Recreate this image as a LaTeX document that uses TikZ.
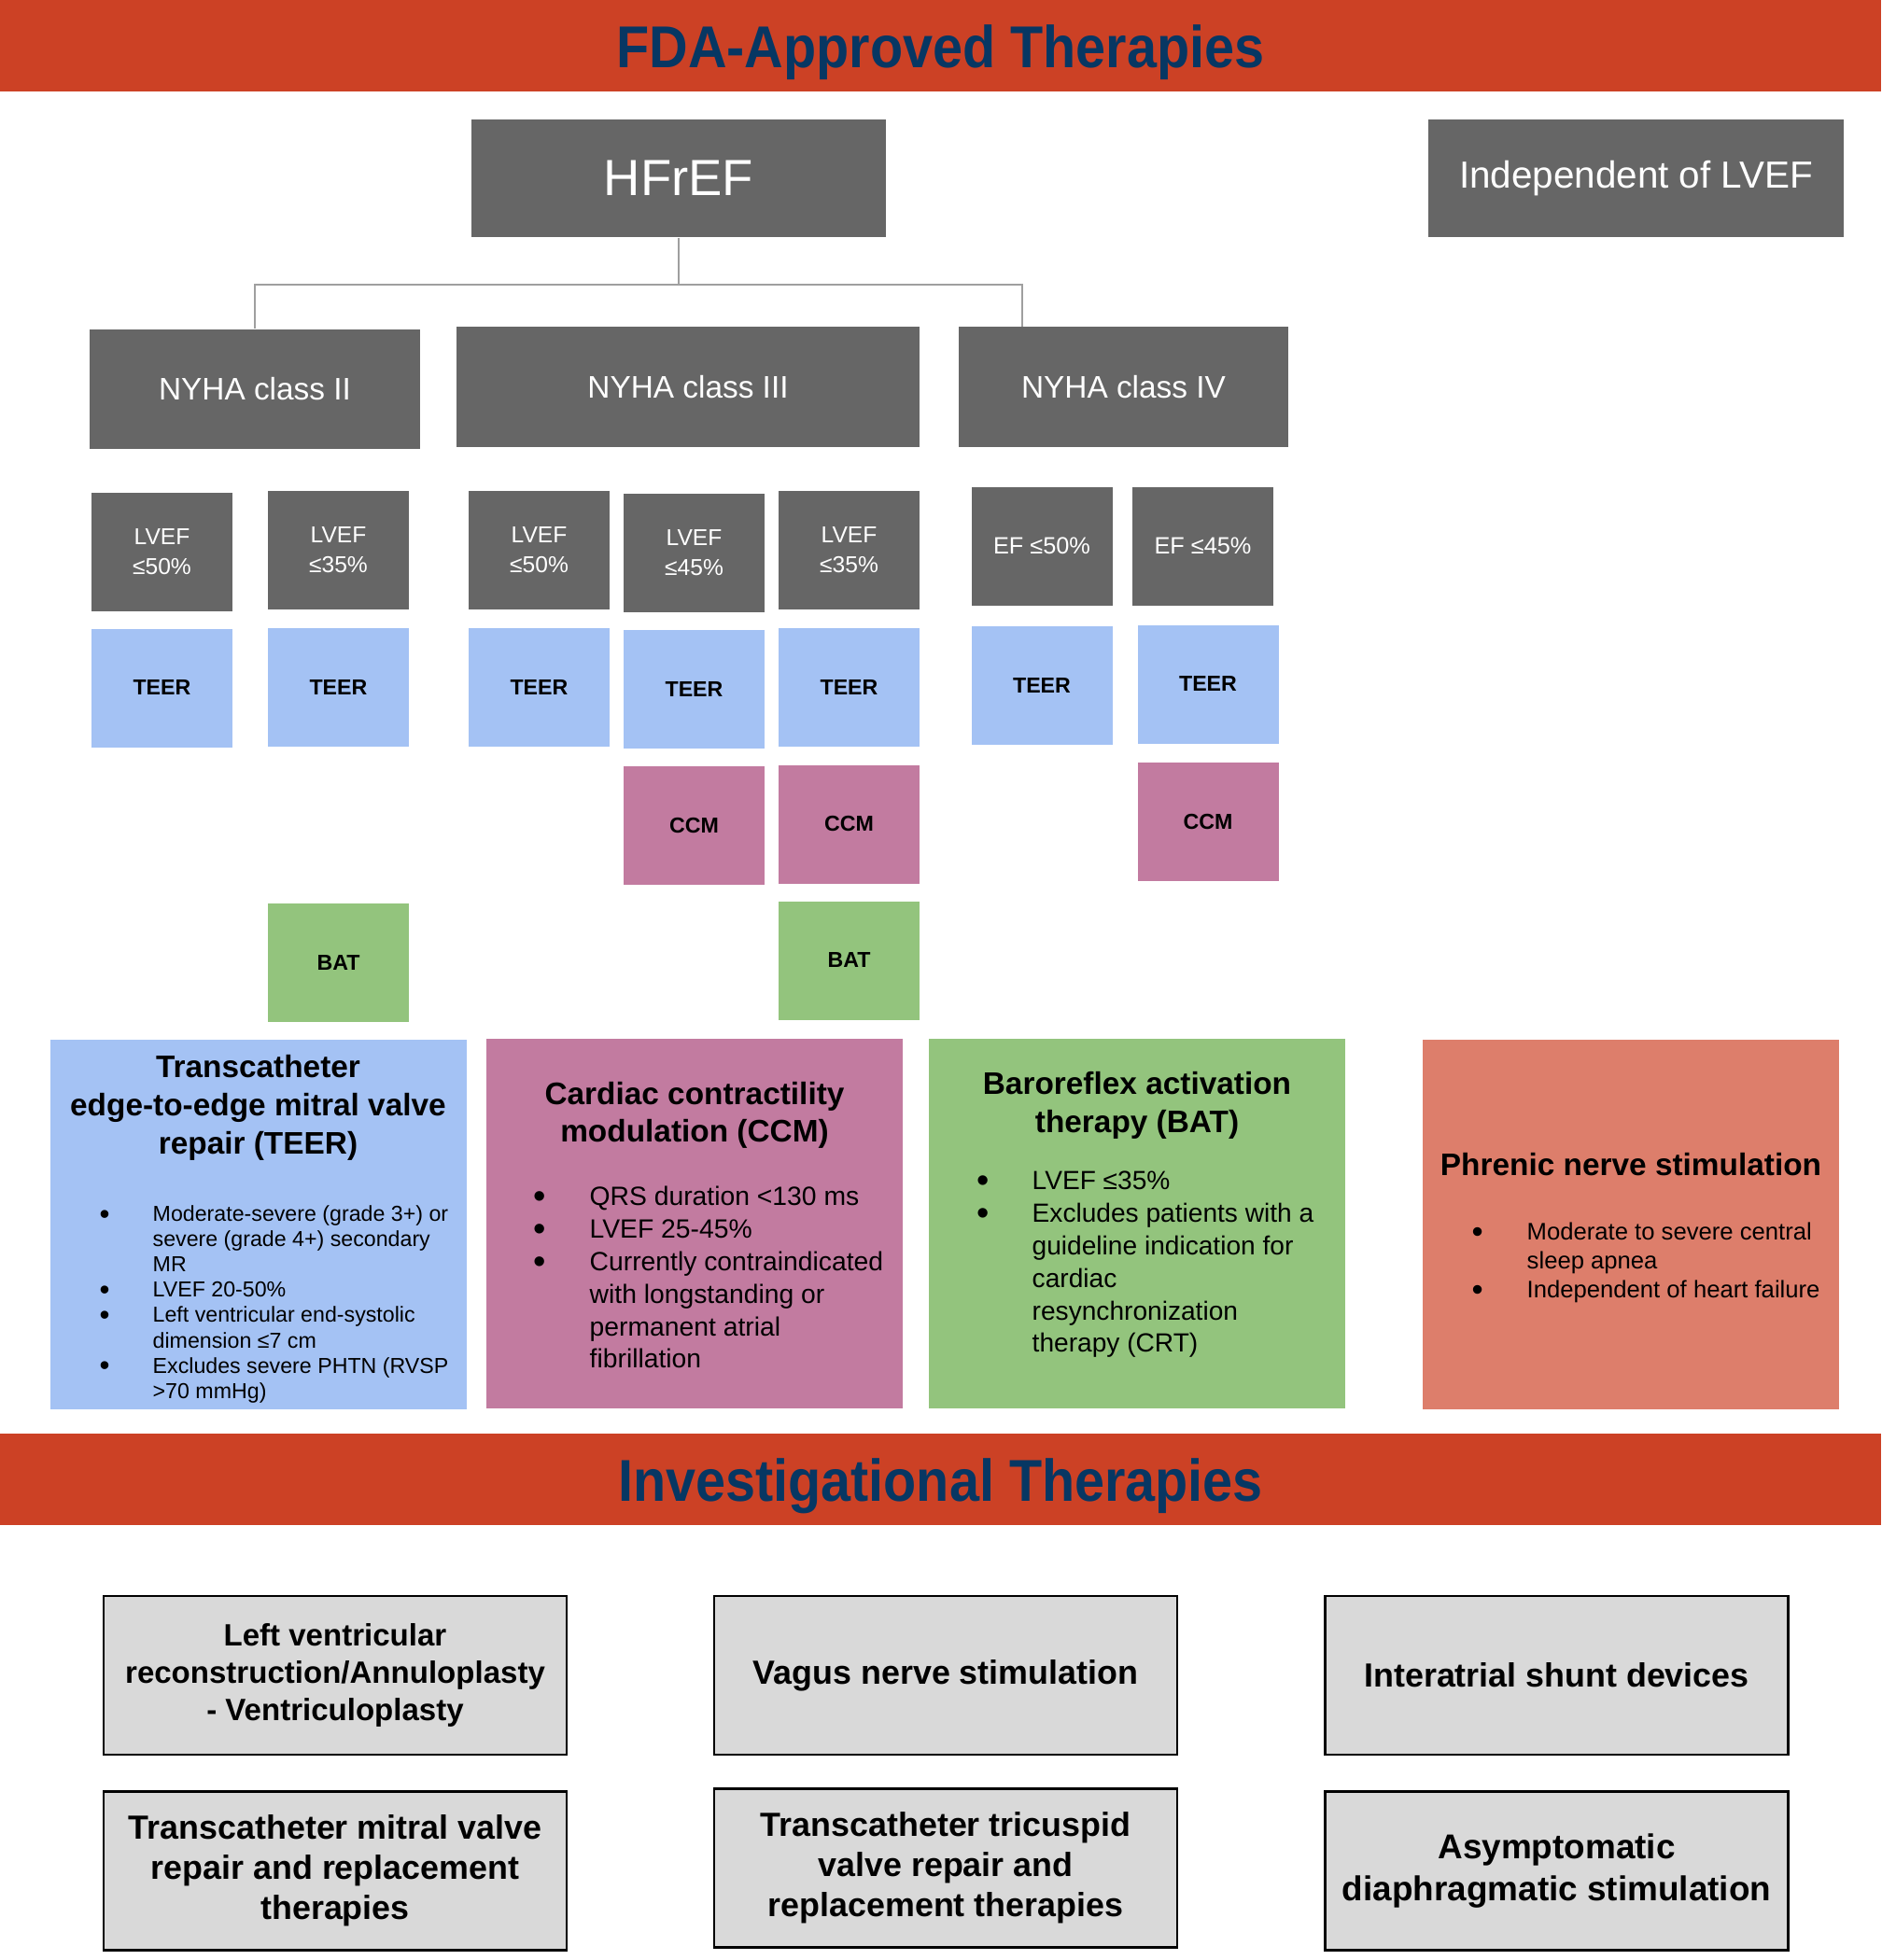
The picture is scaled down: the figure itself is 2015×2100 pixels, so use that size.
\documentclass[tikz,border=0pt]{standalone}
\usepackage{fontspec}
\setmainfont{Liberation Sans}
\newfontfamily\bannerfont{Liberation Sans}[FakeStretch=0.91]
\usepackage{tikz}
\definecolor{bannerc}{RGB}{204,65,37}
\definecolor{navyc}{RGB}{7,55,99}
\definecolor{greyc}{RGB}{102,102,102}
\definecolor{teerc}{RGB}{164,194,244}
\definecolor{ccmc}{RGB}{194,123,160}
\definecolor{batc}{RGB}{147,196,125}
\definecolor{pnsc}{RGB}{221,126,107}
\definecolor{invc}{RGB}{217,217,217}
\newcommand{\bul}{\raisebox{-.1em}{\scalebox{1.35}{\textbullet}}}
\tikzset{banner/.style={fill=bannerc,minimum width=201.5mm,minimum height=9.8mm,inner sep=0pt,text=navyc,text height=15pt,text depth=1.4pt,font=\bannerfont\fontsize{18}{20}\selectfont\bfseries},
 g/.style={fill=greyc,text=white,inner sep=0pt,align=center},
 nyha/.style={g,minimum height=12.8mm,font=\fontsize{9.5}{11}\selectfont},
 crit/.style={g,minimum width=15.1mm,minimum height=12.7mm,font=\fontsize{7}{9.1}\selectfont},
 sq/.style={inner sep=0pt,minimum width=15.1mm,minimum height=12.7mm,font=\fontsize{6.6}{8}\selectfont\bfseries},
 teer/.style={sq,fill=teerc},ccm/.style={sq,fill=ccmc},bat/.style={sq,fill=batc},
 descbox/.style={inner sep=0pt,minimum width=44.6mm,minimum height=39.6mm},
 dtitle/.style={inner sep=0pt,align=center,font=\fontsize{9.5}{11.6}\selectfont\bfseries},
 dlist/.style={inner sep=0pt,anchor=west},
 inv/.style={draw=black,line width=.8pt,fill=invc,minimum width=49.6mm,minimum height=17mm,inner sep=0pt,align=center,font=\fontsize{10.2}{12.2}\selectfont\bfseries},
 wire/.style={draw=gray!75,line width=.6pt}}
\begin{document}
\begin{tikzpicture}[x=0.1mm,y=-0.1mm]
\useasboundingbox (0,0) rectangle (2015,2100);
\node[banner] (fda) at (1007.5,49) {FDA-Approved Therapies};
\node[g,minimum width=44.4mm,minimum height=12.6mm,font=\fontsize{15.5}{18}\selectfont] (hfref) at (727,191) {HFrEF};
\node[g,minimum width=44.5mm,minimum height=12.6mm,font=\fontsize{11.5}{14}\selectfont] (indep) at (1752.5,191) {Independent of LVEF};
\node[nyha,minimum width=35.4mm] (nyha2) at (273,417) {NYHA class II};
\node[nyha,minimum width=49.6mm] (nyha3) at (737,414.5) {NYHA class III};
\node[nyha,minimum width=35.3mm] (nyha4) at (1203.5,414.5) {NYHA class IV};
\coordinate (bus) at (727,305);
\draw[wire] (hfref) -- (bus) -| (nyha2);
\draw[wire] (bus) -| ([xshift=6.9mm]nyha4.north west);

\node[crit] (c2a) at (173.5,591.5) {LVEF\\≤50\%};
\node[crit] (c2b) at (362.5,589.5) {LVEF\\≤35\%};
\node[crit] (c3a) at (577.5,589.5) {LVEF\\≤50\%};
\node[crit] (c3b) at (743.5,592.5) {LVEF\\≤45\%};
\node[crit] (c3c) at (909.5,589.5) {LVEF\\≤35\%};
\node[crit,font=\fontsize{7.2}{9}\selectfont] (c4a) at (1116,585) {EF ≤50\%};
\node[crit,font=\fontsize{7.2}{9}\selectfont] (c4b) at (1288.5,585) {EF ≤45\%};

\node[teer] (t2a) at (173.5,737) {TEER};
\node[teer] (t2b) at (362.5,736.5) {TEER};
\node[teer] (t3a) at (577.5,736.5) {TEER};
\node[teer] (t3b) at (743.5,738.5) {TEER};
\node[teer] (t3c) at (909.5,736.5) {TEER};
\node[teer] (t4a) at (1116,734.5) {TEER};
\node[teer] (t4b) at (1294,733) {TEER};
\node[ccm] (m3b) at (743.5,884.5) {CCM};
\node[ccm] (m3c) at (909.5,883) {CCM};
\node[ccm] (m4b) at (1294,880.5) {CCM};
\node[bat] (b2b) at (362.5,1031.5) {BAT};
\node[bat] (b3c) at (909.5,1029) {BAT};

\node[descbox,fill=teerc] (teerd) at (276.5,1312) {};
\node[dtitle] (teert) at (276.5,1187) {Transcatheter\\edge-to-edge mitral valve\\repair (TEER)};
\node[dlist,font=\fontsize{6.6}{7.7}\selectfont] (teerl) at (106,1398) {\begin{tabular}{@{}p{5.7mm}@{}l@{}}
 \bul & Moderate-severe (grade 3+) or\\
  & severe (grade 4+) secondary\\
  & MR\\
 \bul & LVEF 20-50\%\\
 \bul & Left ventricular end-systolic\\
  & dimension ≤7 cm\\
 \bul & Excludes severe PHTN (RVSP\\
  & >70 mmHg)
 \end{tabular}};
\node[descbox,fill=ccmc] (ccmd) at (744,1311) {};
\node[dtitle,font=\fontsize{9.5}{11.4}\selectfont\bfseries] (ccmt) at (744,1195) {Cardiac contractility\\modulation (CCM)};
\node[dlist,font=\fontsize{8.05}{9.9}\selectfont] (ccml) at (571,1372) {\begin{tabular}{@{}p{6.0mm}@{}l@{}}
 \bul & QRS duration <130 ms\\
 \bul & LVEF 25-45\%\\
 \bul & Currently contraindicated\\
  & with longstanding or\\
  & permanent atrial\\
  & fibrillation
 \end{tabular}};
\node[descbox,fill=batc] (batd) at (1218,1311) {};
\node[dtitle] (batt) at (1218,1184) {Baroreflex activation\\therapy (BAT)};
\node[dlist,font=\fontsize{8}{9.9}\selectfont] (batl) at (1046,1355) {\begin{tabular}{@{}p{5.9mm}@{}l@{}}
 \bul & LVEF ≤35\%\\
 \bul & Excludes patients with a\\
  & guideline indication for\\
  & cardiac\\
  & resynchronization\\
  & therapy (CRT)
 \end{tabular}};
\node[descbox,fill=pnsc] (pnsd) at (1747,1311.5) {};
\node[dtitle] (pnst) at (1747,1247.5) {Phrenic nerve stimulation};
\node[dlist,font=\fontsize{7.3}{8.8}\selectfont] (pnsl) at (1576,1353.5) {\begin{tabular}{@{}p{5.9mm}@{}l@{}}
 \bul & Moderate to severe central\\
  & sleep apnea\\
 \bul & Independent of heart failure
 \end{tabular}};

\node[banner] (invt) at (1007.5,1585) {Investigational Therapies};
\node[inv,font=\fontsize{9.4}{11.5}\selectfont\bfseries] (lvr) at (359,1795) {Left ventricular\\reconstruction/Annuloplasty\\- Ventriculoplasty};
\node[inv] (vns) at (1013,1795) {Vagus nerve stimulation};
\node[inv] (ias) at (1667.5,1795) {Interatrial shunt devices};
\node[inv] (tmv) at (359,2004.5) {Transcatheter mitral valve\\repair and replacement\\therapies};
\node[inv] (ttv) at (1013,2001.5) {Transcatheter tricuspid\\valve repair and\\replacement therapies};
\node[inv,font=\fontsize{10.5}{12.6}\selectfont\bfseries] (ads) at (1667.5,2004.5) {Asymptomatic\\diaphragmatic stimulation};
\end{tikzpicture}
\end{document}
